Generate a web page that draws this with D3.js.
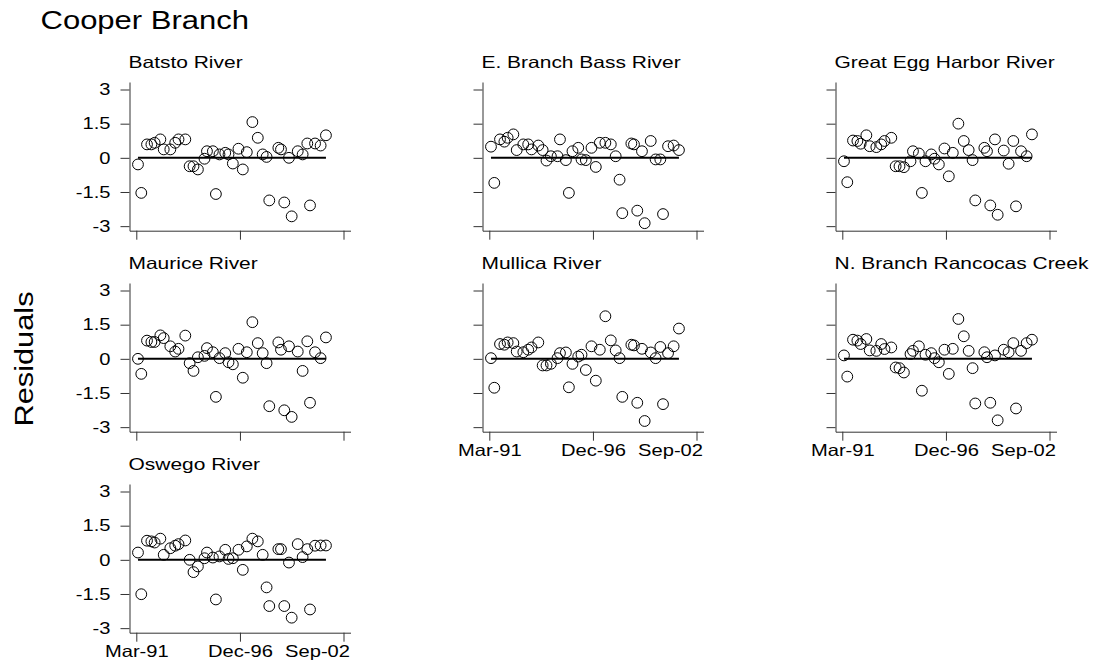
<!DOCTYPE html>
<html>
<head>
<meta charset="utf-8">
<script src="https://cdn.jsdelivr.net/npm/d3@7"></script>
<style>
  body { margin: 0; background: #fff; }
  text { font-family: "Liberation Sans", Arial, sans-serif; fill: #000; }
</style>
</head>
<body>
<svg id="chart" width="1101" height="665"></svg>
<script>
// sampling dates (shared by all stations)
const sampleDates = ['1991-04-04','1991-06-10','1991-10-04','1992-01-01','1992-03-07','1992-07-01','1992-09-07',
  '1993-01-19','1993-04-28','1993-07-04','1993-11-19','1994-02-15','1994-05-04','1994-08-01','1994-12-13',
  '1995-02-01','1995-06-01','1995-08-01','1995-10-13','1996-02-07','1996-04-13','1996-07-10','1996-11-01',
  '1997-01-28','1997-04-19','1997-08-10','1997-11-28','1998-03-07','1998-05-25','1998-07-19','1999-01-19',
  '1999-03-13','1999-05-19','1999-08-22','1999-10-16','2000-02-16','2000-05-25','2000-08-28','2000-10-22',
  '2001-02-01','2001-05-25','2001-09-10'];

const batsto = [-0.29,-1.54,0.59,0.59,0.66,0.81,0.37,0.37,0.66,0.81,0.81,-0.37,-0.37,-0.51,-0.04,0.29,0.29,-1.59,0.15,0.22,0.15,-0.25,0.40,-0.51,0.25,1.57,0.88,0.15,0.04,-1.87,0.44,0.37,-1.96,0,-2.57,0.29,0.15,0.63,-2.09,0.63,0.54,0.99];
const eBranchBass = [0.49,-1.10,0.81,0.71,0.88,1.03,0.34,0.59,0.59,0.37,0.54,0.34,-0.12,0.07,0.07,0.81,-0.10,-1.54,0.29,0.44,-0.07,-0.10,0.44,-0.40,0.66,0.66,0.59,0.07,-0.96,-2.43,0.63,0.59,-2.32,0.29,-2.87,0.74,-0.07,-0.07,-2.47,0.51,0.54,0.34];
const greatEgg = [-0.15,-1.07,0.76,0.74,0.62,0.99,0.51,0.47,0.59,0.74,0.88,-0.37,-0.37,-0.41,-0.15,0.29,0.19,-1.54,-0.15,0.15,-0.04,-0.29,0.41,-0.81,0.22,1.50,0.74,0.34,-0.10,-1.87,0.44,0.29,-2.09,0.81,-2.50,0.32,-0.26,0.74,-2.13,0.29,0.07,1.03];
const maurice = [0,-0.66,0.80,0.74,0.74,1.03,0.91,0.55,0.32,0.44,1.02,-0.19,-0.53,0.07,0.13,0.47,0.29,-1.67,0.03,0.25,-0.15,-0.24,0.44,-0.83,0.29,1.61,0.69,0.25,-0.19,-2.08,0.72,0.40,-2.26,0.55,-2.55,0.32,-0.53,0.77,-1.93,0.29,0.03,0.94];
const mullica = [0.03,-1.27,0.65,0.62,0.72,0.69,0.32,0.29,0.40,0.50,0.72,-0.29,-0.29,-0.22,0.03,0.25,0.28,-1.25,-0.22,0.10,0.18,-0.49,0.55,-0.96,0.40,1.87,0.81,0.37,0.03,-1.67,0.62,0.59,-1.93,0.44,-2.73,0.28,0.03,0.52,-1.99,0.25,0.55,1.33];
const nBranchRancocas = [0.15,-0.78,0.84,0.80,0.65,0.87,0.37,0.35,0.65,0.43,0.50,-0.38,-0.41,-0.60,0.21,0.35,0.55,-1.40,0.18,0.25,0.03,-0.15,0.40,-0.66,0.44,1.75,0.99,0.35,-0.41,-1.96,0.29,0.07,-1.93,0.15,-2.70,0.40,0.29,0.69,-2.18,0.35,0.69,0.84];
const oswego = [0.32,-1.51,0.84,0.81,0.76,0.93,0.22,0.51,0.62,0.69,0.85,0,-0.54,-0.29,0.07,0.32,0.10,-1.74,0.15,0.44,0.04,0.07,0.44,-0.44,0.59,0.93,0.81,0.22,-1.21,-2.03,0.47,0.47,-2.03,-0.12,-2.54,0.69,0.12,0.47,-2.18,0.62,0.63,0.63];

const panelNames = ['Batsto River', 'E. Branch Bass River', 'Great Egg Harbor River',
  'Maurice River', 'Mullica River', 'N. Branch Rancocas Creek', 'Oswego River'];
const panelValues = [batsto, eBranchBass, greatEgg, maurice, mullica, nBranchRancocas, oswego];

const yTickValues = [3, 1.5, 0, -1.5, -3];
const yTickLabels = ['3', '1.5', '0', '-1.5', '-3'];
const xTickDates = ['1991-03-01', '1996-12-01', '2002-09-01'];
const xTickLabels = ['Mar-91', 'Dec-96', 'Sep-02'];

const parseDate = d3.timeParse('%Y-%m-%d');
let svg = d3.select('#chart');
svg.append('rect').attr('width', 1101).attr('height', 665).attr('fill', '#fff');

// text in the original is drawn wider than normal
function stretch(sel, k) {
  sel.each(function() {
    let w = this.getComputedTextLength();
    d3.select(this).attr('textLength', w * k).attr('lengthAdjust', 'spacingAndGlyphs');
  });
}

let colX = [129.5, 482.5, 835.5];
let rowBottom = [230.7, 431.7, 632.7];
let plotW = 221, plotH = 148.7;
let axisColor = '#333';

let xBase = d3.scaleTime()
  .domain([parseDate('1991-03-01'), parseDate('2002-09-01')])
  .range([6.8, 214]);
let x = d3.scaleTime().domain([xBase.invert(0), xBase.invert(plotW)]).range([0, plotW]);
let y = d3.scaleLinear().domain([-3.2, 3.33]).range([plotH, 0]);

let dates = sampleDates.map(parseDate);

panelNames.forEach((name, i) => {
  let row = Math.floor(i / 3), col = i % 3;
  let showX = (col === 0 && row === 2) || (col > 0 && row === 1);
  let showY = col === 0;
  let g = svg.append('g').attr('transform', `translate(${colX[col]},${rowBottom[row] - plotH})`);

  // panel title
  let t = g.append('text')
    .attr('x', -1)
    .attr('y', 68.3 + 201 * row - (rowBottom[row] - plotH))
    .attr('font-size', 16.5)
    .text(name);
  stretch(t, 1.27);

  // y axis
  let yAxis = d3.axisLeft(y)
    .tickValues(yTickValues)
    .tickSize(9).tickSizeOuter(0).tickPadding(10)
    .tickFormat((d, k) => showY ? yTickLabels[k] : '');
  let ya = g.append('g').call(yAxis);
  ya.attr('font-size', 16.5).attr('font-family', null);
  ya.selectAll('path, line').attr('stroke', axisColor);
  stretch(ya.selectAll('text'), 1.22);

  // x axis
  let xAxis = d3.axisBottom(x)
    .tickValues(xTickDates.map(parseDate))
    .tickSize(9).tickSizeOuter(0).tickPadding(4)
    .tickFormat((d, k) => showX ? xTickLabels[k] : '');
  let xa = g.append('g').attr('transform', `translate(0,${plotH})`).call(xAxis);
  xa.attr('font-size', 16.5).attr('font-family', null);
  xa.selectAll('path, line').attr('stroke', axisColor);
  xa.selectAll('.tick:last-of-type text').attr('text-anchor', 'end').attr('x', 6);
  stretch(xa.selectAll('text'), 1.22);

  // zero reference line across the sampled period
  g.append('line')
    .attr('x1', x(dates[0])).attr('x2', x(dates[dates.length - 1]))
    .attr('y1', y(0)).attr('y2', y(0))
    .attr('stroke', '#000').attr('stroke-width', 2);

  // residual points
  g.selectAll('circle')
    .data(panelValues[i])
    .enter().append('circle')
    .attr('cx', (d, k) => x(dates[k]))
    .attr('cy', d => y(d))
    .attr('r', 5.4)
    .attr('fill', 'none')
    .attr('stroke', '#000')
    .attr('stroke-width', 1);
});

// main title
let title = svg.append('text')
  .attr('x', 40.5).attr('y', 28.5)
  .attr('font-size', 25)
  .text('Cooper Branch');
stretch(title, 1.24);

// y axis label
let ylab = svg.append('text')
  .attr('transform', 'translate(33.3,359) rotate(-90)')
  .attr('text-anchor', 'middle')
  .attr('font-size', 25)
  .text('Residuals');
stretch(ylab, 1.23);
</script>
</body>
</html>
